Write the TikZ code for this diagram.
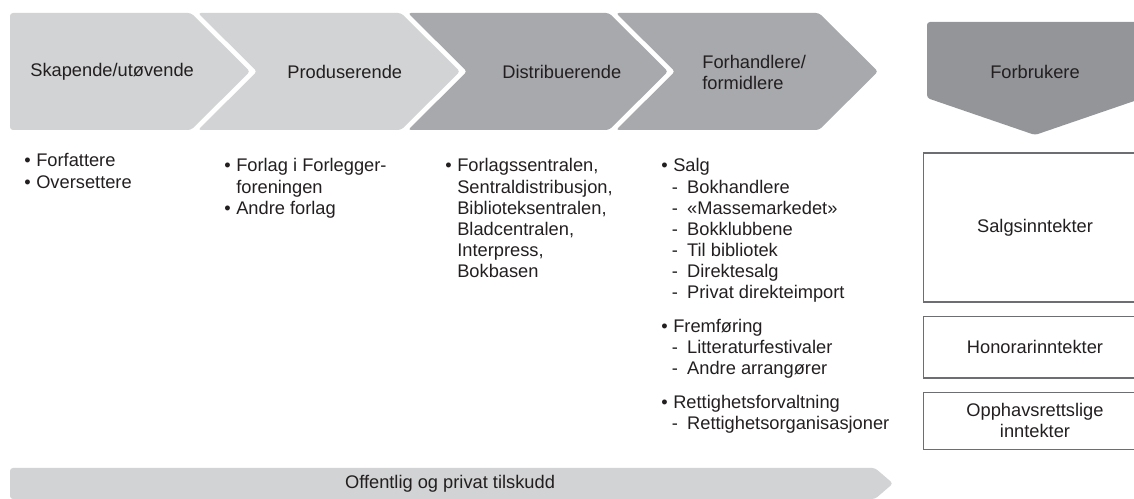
\documentclass[tikz,border=0pt]{standalone}
\usepackage{fontspec}
\setmainfont{Liberation Sans}
\usetikzlibrary{positioning}
\definecolor{lightGrey}{HTML}{D1D3D4}
\definecolor{midGrey}{HTML}{A7A9AC}
\definecolor{darkGrey}{HTML}{939598}
\definecolor{textGrey}{HTML}{231F20}
\definecolor{lineGrey}{HTML}{6D6E71}
\newcommand{\myBullet}{\makebox[6.8pt][l]{•}}
\newcommand{\myIndent}{\hspace*{6.8pt}}
\newcommand{\myDash}{\hspace*{6.0pt}\makebox[8.7pt][l]{-}}

\begin{document}
\begin{tikzpicture}[x=0.02cm,y=-0.02cm,node distance=0.26cm,
	Stage/.style={rounded corners=1.7pt},
	Label/.style={inner sep=0pt,text=textGrey,font=\fontsize{10.4}{12}\selectfont},
	List/.style={Label,anchor=base west},
	Box/.style={Label,draw=lineGrey,line width=0.6pt,minimum width=4.48cm},
]
	\clip (0,0) rectangle (1134,499);
	
	% value chain
	\fill[lightGrey,Stage] (10,13) -- (191,13) -- (250,71.5) -- (191,130) -- (10,130) -- cycle;
	\fill[lightGrey,Stage] (198,13) -- (401,13) -- (460,71.5) -- (401,130) -- (198,130) -- (257,71.5) -- cycle;
	\fill[midGrey,Stage] (408,13) -- (609,13) -- (668,71.5) -- (609,130) -- (408,130) -- (467,71.5) -- cycle;
	\fill[midGrey,Stage] (616,13) -- (819,13) -- (878,71.5) -- (819,130) -- (616,130) -- (675,71.5) -- cycle;
	\fill[darkGrey,Stage] (927,22) -- (1143,22) -- (1143,98) -- (1035,135) -- (927,98) -- cycle;
	\fill[lightGrey,Stage] (10,468) -- (875,468) -- (893,483.5) -- (875,499) -- (10,499) -- cycle;
	
	\node[Label,anchor=west] (creators) at (30,71.5) {Skapende/utøvende};
	\node[Label,anchor=west] (producers) at (287,71.5) {Produserende};
	\node[Label,anchor=west] (distributors) at (502,71.5) {Distribuerende};
	\node[Label,anchor=west,align=left] (retailers) at (702,72.5) {Forhandlere/\\formidlere};
	\node[Label] (consumers) at (1035,71.5) {Forbrukere};
	\node[Label] (subsidy) at (450,484) {Offentlig og privat tilskudd};
	
	% lists
	\node[List] (creatorList) at (24,167) {\begin{tabular}[t]{@{}l@{}}
		\myBullet Forfattere\\
		\myBullet Oversettere
	\end{tabular}};
	\node[List] (producerList) at (224,172) {\begin{tabular}[t]{@{}l@{}}
		\myBullet Forlag i Forlegger-\\
		\myIndent foreningen\\
		\myBullet Andre forlag
	\end{tabular}};
	\node[List] (distributorList) at (445,172) {\begin{tabular}[t]{@{}l@{}}
		\myBullet Forlagssentralen,\\
		\myIndent Sentraldistribusjon,\\
		\myIndent Biblioteksentralen,\\
		\myIndent Bladcentralen,\\
		\myIndent Interpress,\\
		\myIndent Bokbasen
	\end{tabular}};
	\node[List] (retailerList) at (661,172) {\begin{tabular}[t]{@{}l@{}}
		\myBullet Salg\\
		\myDash Bokhandlere\\
		\myDash «Massemarkedet»\\
		\myDash Bokklubbene\\
		\myDash Til bibliotek\\
		\myDash Direktesalg\\
		\myDash Privat direkteimport\\[7.3pt]
		\myBullet Fremføring\\
		\myDash Litteraturfestivaler\\
		\myDash Andre arrangører\\[7.3pt]
		\myBullet Rettighetsforvaltning\\
		\myDash Rettighetsorganisasjoner
	\end{tabular}};
	
	% income
	\node[Box,minimum height=2.98cm] (salesBox) at (1035,227.5) {Salgsinntekter};
	\node[Box,minimum height=1.24cm] (feeBox) [below=of salesBox] {Honorarinntekter};
	\node[Box,minimum height=1.14cm,align=center] (rightsBox) [below=of feeBox] {Opphavsrettslige\\inntekter};
\end{tikzpicture}
\end{document}
